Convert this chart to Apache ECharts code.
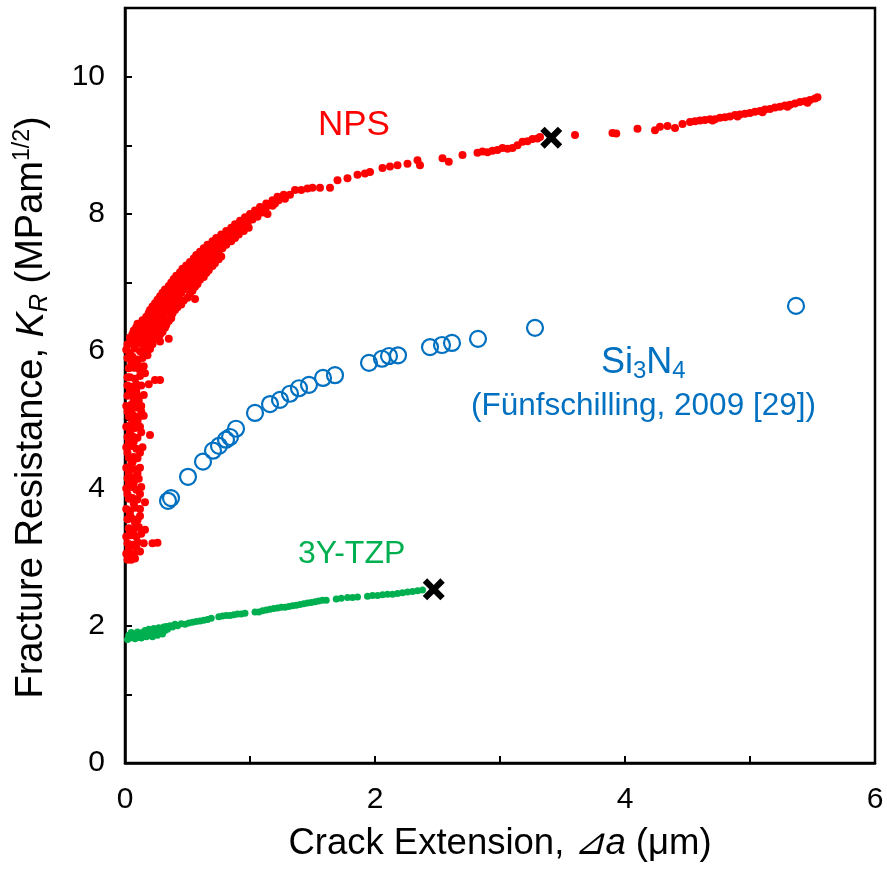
<!DOCTYPE html>
<html>
<head>
<meta charset="utf-8">
<script src="https://cdn.jsdelivr.net/npm/echarts@6/dist/echarts.min.js"></script>
<style>
  html, body { margin: 0; padding: 0; background: #fff; }
  #main { width: 887px; height: 872px; }
</style>
</head>
<body>
<div id="main"></div>
<script>
// NPS: dense cloud near the origin (crack extension um, K_R MPa m^1/2)
var npsCloud = [
  [0.02,2.96],[0.05,2.96],[0.08,2.98],
  [0.01,3.05],[0.04,3.06],[0.07,3.04],[0.12,3.08],[0.03,3.12],[0.09,3.14],
  [0.02,3.2],[0.06,3.18],[0.1,3.22],[0.15,3.2],[0.22,3.2],[0.26,3.21],
  [0.01,3.3],[0.05,3.32],[0.09,3.3],[0.13,3.34],[0.04,3.36],
  [0.03,3.42],[0.07,3.4],[0.11,3.44],[0.16,3.4],[0.08,3.5],
  [0.02,3.55],[0.06,3.56],[0.1,3.54],[0.04,3.62],[0.12,3.6],
  [0.01,3.7],[0.04,3.68],[0.08,3.72],[0.12,3.7],[0.07,3.78],
  [0.03,3.85],[0.06,3.86],[0.1,3.84],[0.16,3.8],[0.02,3.92],[0.12,3.92],
  [0.01,4.0],[0.05,4.02],[0.09,3.98],[0.13,4.02],[0.07,4.08],[0.03,4.08],
  [0.02,4.15],[0.06,4.16],[0.11,4.14],[0.03,4.22],[0.1,4.22],
  [0.01,4.3],[0.04,4.32],[0.08,4.28],[0.12,4.3],[0.06,4.38],[0.05,4.4],
  [0.03,4.45],[0.07,4.46],[0.1,4.44],[0.02,4.52],[0.12,4.52],
  [0.01,4.6],[0.05,4.62],[0.09,4.58],[0.14,4.6],[0.07,4.68],[0.03,4.68],
  [0.02,4.75],[0.06,4.76],[0.1,4.74],[0.2,4.78],[0.04,4.82],[0.13,4.82],
  [0.01,4.9],[0.04,4.92],[0.08,4.88],[0.12,4.9],[0.1,4.98],[0.06,4.98],
  [0.03,5.05],[0.07,5.06],[0.11,5.04],[0.15,5.06],[0.05,5.12],[0.02,5.12],[0.13,5.12],
  [0.01,5.2],[0.05,5.22],[0.09,5.18],[0.13,5.2],[0.11,5.28],[0.07,5.28],
  [0.02,5.35],[0.06,5.36],[0.1,5.34],[0.15,5.36],[0.04,5.42],[0.09,5.42],
  [0.02,5.5],[0.05,5.48],[0.09,5.52],[0.13,5.5],[0.19,5.52],
  [0.04,5.62],[0.08,5.6],[0.12,5.64],[0.24,5.58],[0.28,5.58],[0.16,5.68],[0.02,5.62],
  [0.03,5.75],[0.07,5.76],[0.11,5.74],[0.15,5.78],[0.05,5.82],[0.1,5.82],
  [0.02,5.9],[0.06,5.92],[0.1,5.88],[0.14,5.9],[0.18,5.94],[0.04,5.98],[0.14,5.98],
  [0.01,6.02],[0.08,6.04],[0.12,6.0],[0.16,6.05],[0.2,6.03]
];
// NPS: rising band
var npsBand = [
  [0.02,6.1],[0.06,6.1],[0.1,6.12],[0.14,6.1],[0.18,6.12],[0.22,6.1],
  [0.04,6.2],[0.09,6.2],[0.13,6.22],[0.17,6.2],[0.21,6.2],[0.26,6.18],
  [0.07,6.3],[0.12,6.3],[0.16,6.32],[0.2,6.3],[0.25,6.3],[0.3,6.28],[0.35,6.18],
  [0.1,6.4],[0.15,6.4],[0.19,6.42],[0.23,6.4],[0.28,6.4],[0.33,6.38],
  [0.17,6.5],[0.21,6.5],[0.26,6.52],[0.31,6.5],[0.37,6.48],[0.19,6.56],
  [0.2,6.6],[0.25,6.6],[0.3,6.62],[0.35,6.6],[0.4,6.6],
  [0.24,6.7],[0.29,6.7],[0.34,6.72],[0.39,6.7],[0.45,6.68],
  [0.28,6.8],[0.33,6.8],[0.38,6.82],[0.43,6.8],[0.5,6.78],[0.56,6.76],
  [0.32,6.9],[0.37,6.9],[0.42,6.92],[0.47,6.9],[0.54,6.88],
  [0.37,7.0],[0.42,7.0],[0.47,7.02],[0.53,7.0],[0.58,6.98],
  [0.41,7.1],[0.46,7.1],[0.51,7.12],[0.57,7.1],[0.63,7.08],
  [0.46,7.2],[0.51,7.2],[0.56,7.22],[0.62,7.2],[0.67,7.18],
  [0.52,7.3],[0.57,7.3],[0.62,7.32],[0.67,7.3],[0.72,7.28],
  [0.57,7.4],[0.62,7.4],[0.67,7.42],[0.73,7.4],[0.77,7.38],
  [0.63,7.5],[0.68,7.5],[0.73,7.52],[0.78,7.5],
  [0.7,7.6],[0.75,7.6],[0.8,7.62],[0.85,7.6],
  [0.77,7.7],[0.82,7.7],[0.87,7.72],[0.91,7.7],
  [0.85,7.8],[0.9,7.8],[0.95,7.82],[0.99,7.8],
  [0.92,7.9],[0.97,7.9],[1.02,7.92],
  [1.0,8.0],[1.05,8.0],[1.1,8.02],[1.14,8.0],
  [1.08,8.1],[1.13,8.1],[1.18,8.12],
  [1.18,8.2],[1.23,8.2],[1.28,8.22],
  [1.27,8.28],[1.32,8.28],
  [1.36,8.35],[1.41,8.35],[1.46,8.37]
];
// NPS: band points between the rows above
var npsBandFill = [
  [0.05,6.15],[0.11,6.15],[0.16,6.16],[0.2,6.15],[0.28,6.14],
  [0.06,6.25],[0.11,6.25],[0.15,6.26],[0.19,6.25],[0.23,6.25],[0.28,6.24],
  [0.09,6.35],[0.14,6.35],[0.18,6.36],[0.22,6.35],[0.27,6.35],[0.32,6.34],
  [0.14,6.45],[0.18,6.45],[0.24,6.46],[0.3,6.45],[0.35,6.44],
  [0.23,6.55],[0.28,6.55],[0.33,6.56],[0.38,6.55],
  [0.22,6.65],[0.27,6.65],[0.32,6.66],[0.37,6.65],[0.42,6.64],
  [0.26,6.75],[0.31,6.75],[0.36,6.76],[0.41,6.75],[0.47,6.74],
  [0.3,6.85],[0.35,6.85],[0.4,6.86],[0.45,6.85],[0.52,6.84],
  [0.35,6.95],[0.4,6.95],[0.45,6.96],[0.5,6.95],[0.56,6.94],
  [0.39,7.05],[0.44,7.05],[0.49,7.06],[0.55,7.05],[0.6,7.04],
  [0.44,7.15],[0.49,7.15],[0.54,7.16],[0.6,7.15],[0.65,7.14],
  [0.49,7.25],[0.54,7.25],[0.59,7.26],[0.65,7.25],[0.7,7.24],
  [0.55,7.35],[0.6,7.35],[0.65,7.36],[0.7,7.35],[0.75,7.34],
  [0.6,7.45],[0.65,7.45],[0.7,7.46],[0.75,7.45],
  [0.66,7.55],[0.71,7.55],[0.76,7.56],[0.81,7.55],
  [0.73,7.65],[0.78,7.65],[0.83,7.66],[0.88,7.65],
  [0.81,7.75],[0.86,7.75],[0.9,7.76],[0.95,7.75],
  [0.88,7.85],[0.93,7.85],[0.98,7.86],
  [0.96,7.95],[1.0,7.95],[1.06,7.96],
  [1.04,8.05],[1.09,8.05],[1.12,8.06],
  [1.13,8.15],[1.2,8.15],
  [1.22,8.25],[1.27,8.25]
];
// NPS: long tail
var npsTail = [
  [1.5,8.38],[1.56,8.38],[1.64,8.38],[1.7,8.49],[1.78,8.52],[1.86,8.57],[1.92,8.59],
  [1.96,8.61],[2.06,8.67],[2.12,8.69],[2.18,8.71],[2.26,8.73],[2.34,8.78],[2.36,8.71],
  [2.54,8.81],[2.59,8.76],[2.7,8.86],[2.82,8.89],[2.86,8.91],[2.9,8.9],[2.94,8.92],
  [2.98,8.93],[3.02,8.96],[3.06,8.95],[3.1,8.96],[3.14,9.0],[3.18,9.05],[3.22,9.06],
  [3.26,9.09],[3.3,9.1],[3.32,9.12],[3.6,9.15],
  [3.9,9.18],[3.93,9.17],[4.1,9.24],[4.24,9.22],[4.28,9.27],[4.34,9.28],[4.4,9.25],
  [4.46,9.31],[4.52,9.34],[4.56,9.35],[4.6,9.36],[4.64,9.37],[4.68,9.38],[4.7,9.36],
  [4.72,9.38],[4.76,9.4],[4.8,9.41],[4.84,9.42],[4.88,9.44],[4.9,9.42],[4.92,9.45],
  [4.96,9.46],[5.0,9.47],[5.04,9.49],[5.08,9.5],[5.1,9.48],[5.12,9.52],[5.16,9.53],
  [5.2,9.55],[5.24,9.56],[5.28,9.58],[5.3,9.56],[5.32,9.59],[5.36,9.61],[5.4,9.63],
  [5.44,9.64],[5.46,9.62],[5.48,9.66],[5.52,9.68],[5.54,9.7]
];
// 3Y-TZP
var tzpPoints = [
  [0.02,1.8],[0.03,1.86],[0.04,1.82],[0.05,1.9],[0.06,1.84],[0.07,1.88],[0.08,1.81],
  [0.09,1.86],[0.1,1.91],[0.11,1.83],[0.12,1.88],[0.13,1.82],[0.14,1.9],[0.15,1.85],
  [0.16,1.93],[0.17,1.84],[0.18,1.89],[0.19,1.95],[0.2,1.86],[0.21,1.92],[0.22,1.84],
  [0.23,1.96],[0.24,1.89],[0.25,1.94],[0.26,1.86],[0.27,1.97],[0.28,1.91],[0.29,1.95],
  [0.3,1.88],[0.31,1.98],[0.32,1.93],[0.33,1.99],[0.34,1.95],[0.36,2.0],[0.38,1.98],
  [0.4,2.02],[0.42,2.0],[0.45,2.03],[0.48,2.02],[0.51,2.04],[0.54,2.05],[0.57,2.06],
  [0.6,2.07],[0.63,2.08],[0.66,2.09],[0.69,2.11],[0.75,2.13],[0.78,2.14],[0.81,2.15],
  [0.84,2.15],[0.87,2.16],[0.9,2.17],[0.93,2.17],[0.96,2.18],[1.04,2.2],[1.07,2.2],
  [1.1,2.22],[1.13,2.23],[1.16,2.24],[1.19,2.25],[1.22,2.26],[1.25,2.27],[1.28,2.27],
  [1.31,2.28],[1.34,2.29],[1.37,2.3],[1.4,2.31],[1.43,2.32],[1.46,2.33],[1.49,2.34],
  [1.52,2.35],[1.55,2.36],[1.58,2.37],[1.61,2.37],[1.69,2.39],[1.73,2.4],[1.78,2.41],
  [1.82,2.41],[1.86,2.42],[1.94,2.43],[1.98,2.44],[2.02,2.44],[2.06,2.45],[2.1,2.46],
  [2.14,2.46],[2.18,2.47],[2.22,2.48],[2.26,2.49],[2.3,2.5],[2.34,2.51],[2.38,2.52]
];
// Si3N4 (Fuenfschilling, 2009)
var si3n4Points = [
  [0.344,3.82],[0.368,3.86],[0.504,4.17],[0.624,4.39],[0.704,4.55],[0.752,4.62],
  [0.808,4.71],[0.84,4.75],[0.888,4.87],[1.04,5.1],[1.16,5.23],[1.24,5.29],
  [1.32,5.38],[1.392,5.46],[1.472,5.51],[1.584,5.61],[1.68,5.65],[1.952,5.83],
  [2.056,5.89],[2.112,5.93],[2.184,5.94],[2.44,6.06],[2.536,6.09],[2.616,6.12],
  [2.824,6.18],[3.28,6.34],[5.368,6.66]
];
// failure points (x marks)
var failPoints = [[3.41,9.11],[2.47,2.53]];

var xTicks = [0, 2, 4, 6];
var yTicks = [0, 2, 4, 6, 8, 10];

var FONT = 'Liberation Sans, Arial, sans-serif';
var crossPath = 'path://M0,4 L4,0 L10,6 L16,0 L20,4 L14,10 L20,16 L16,20 L10,14 L4,20 L0,16 L6,10 Z';

var myChart = echarts.init(document.getElementById('main'));

var option = {
    animation: false,
    backgroundColor: '#fff',
    grid: {
        left: 125, right: 12, top: 8, bottom: 109,
        show: true, borderColor: '#000', borderWidth: 2.5
    },
    xAxis: {
        type: 'value', min: 0, max: 6, interval: 1,
        axisLine: { show: true, lineStyle: { color: '#000', width: 2.5 } },
        axisTick: { show: true, inside: true, length: 7, lineStyle: { color: '#000', width: 2 } },
        splitLine: { show: false },
        axisLabel: {
            margin: 22, color: '#000', fontSize: 30, fontFamily: FONT,
            formatter: function (v) { return xTicks.indexOf(v) >= 0 ? String(v) : ''; }
        },
        name: '{n|Crack Extension, }{i|⊿a}{n| (μm)}',
        nameLocation: 'middle', nameGap: 62,
        nameTextStyle: {
            color: '#000', fontSize: 36, fontFamily: FONT,
            rich: {
                n: { fontSize: 36.5, fontFamily: FONT, color: '#000' },
                i: { fontSize: 36.5, fontFamily: FONT, color: '#000', fontStyle: 'italic' }
            }
        }
    },
    yAxis: {
        type: 'value', min: 0, max: 11, interval: 1,
        axisLine: { show: true, lineStyle: { color: '#000', width: 2.5 } },
        axisTick: { show: true, inside: true, length: 7, lineStyle: { color: '#000', width: 2 } },
        splitLine: { show: false },
        axisLabel: {
            margin: 20, color: '#000', fontSize: 30, fontFamily: FONT,
            formatter: function (v) { return yTicks.indexOf(v) >= 0 ? String(v) : ''; }
        },
        name: '{n|Fracture Resistance, }{i|K}{sub|R}{n| (MPam}{sup|1/2}{n|)}',
        nameLocation: 'middle', nameGap: 72,
        nameTextStyle: {
            color: '#000', fontSize: 38, fontFamily: FONT,
            padding: [0, 44, 0, 0],
            rich: {
                n: { fontSize: 38, fontFamily: FONT, color: '#000', lineHeight: 42 },
                i: { fontSize: 38, fontFamily: FONT, color: '#000', fontStyle: 'italic', lineHeight: 42 },
                sub: { fontSize: 25, fontFamily: FONT, color: '#000', fontStyle: 'italic', verticalAlign: 'bottom', lineHeight: 22 },
                sup: { fontSize: 23, fontFamily: FONT, color: '#000', verticalAlign: 'top', lineHeight: 22 }
            }
        }
    },
    series: [
        {
            name: 'NPS', type: 'scatter', symbol: 'circle', symbolSize: 8,
            itemStyle: { color: '#FF0000', opacity: 1 },
            data: npsCloud.concat(npsBand, npsBandFill, npsTail)
        },
        {
            name: '3Y-TZP', type: 'scatter', symbol: 'circle', symbolSize: 7,
            itemStyle: { color: '#00B050', opacity: 1 },
            data: tzpPoints
        },
        {
            name: 'Si3N4', type: 'scatter', symbol: 'circle', symbolSize: 16,
            itemStyle: { color: 'rgba(0,0,0,0)', borderColor: '#0070C0', borderWidth: 2.2, opacity: 1 },
            data: si3n4Points
        },
        {
            name: 'failure', type: 'scatter', symbol: crossPath, symbolSize: 22,
            itemStyle: { color: '#000', opacity: 1 },
            data: failPoints
        }
    ],
    graphic: [
        {
            type: 'text', left: 318, top: 108,
            style: { text: 'NPS', fill: '#FF0000', font: '35px ' + FONT }
        },
        {
            type: 'text', left: 298, top: 538,
            style: { text: '3Y-TZP', fill: '#00B050', font: '32px ' + FONT }
        },
        {
            type: 'text', left: 601, top: 345,
            style: {
                text: '{a|Si}{s|3}{a|N}{s|4}',
                rich: {
                    a: { fill: '#0070C0', fontSize: 36, fontFamily: FONT, lineHeight: 40 },
                    s: { fill: '#0070C0', fontSize: 24, fontFamily: FONT, verticalAlign: 'bottom', lineHeight: 22 }
                }
            }
        },
        {
            type: 'text', left: 471, top: 390,
            style: { text: '(Fünfschilling, 2009 [29])', fill: '#0070C0', font: '31.5px ' + FONT }
        }
    ]
};

myChart.setOption(option);
</script>
</body>
</html>
